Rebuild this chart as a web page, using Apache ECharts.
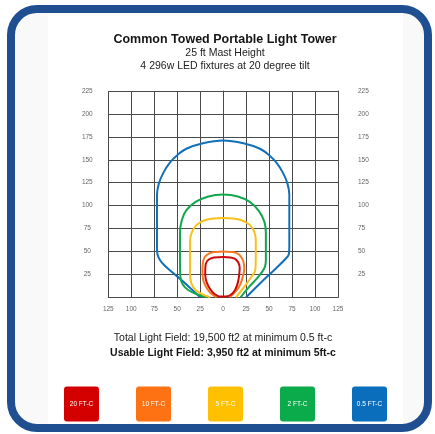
<!DOCTYPE html>
<html>
<head>
<meta charset="utf-8">
<script src="https://cdn.jsdelivr.net/npm/echarts@6/dist/echarts.min.js"></script>
<style>
html,body{margin:0;padding:0;background:#ffffff;}
#chart{width:435px;height:434px;}
</style>
</head>
<body>
<div id="chart"></div>
<script>
// ---- data (feet) ----
var xTicks = [-125,-100,-75,-50,-25,0,25,50,75,100,125];
var yTicks = [0,25,50,75,100,125,150,175,200,225];

var fc05 = [[-25,0],[-40,14],[-55,27],[-64,35],[-69,41],[-71.5,47],[-72,55],[-72,75],[-72,95],[-72,112],[-70,124],[-65,136],[-58,147],[-50,155],[-40,162],[-22,168],[0,171],[22,168],[40,162],[50,155],[58,147],[65,136],[70,124],[72,112],[72,95],[72,75],[72,55],[71.5,47],[68,42],[58,32],[42,17],[25,0]];
var fc2 = [[-18,0],[-28,3],[-38,8],[-44,14],[-46.5,22],[-47,40],[-47,70],[-45,84],[-40,95],[-30,104],[-16,110],[0,112],[16,110],[29,104],[39,94],[45,82],[46.5,70],[46.5,40],[45,32],[38,22],[28,11],[19,0]];
var fc5 = [[-14,0],[-22,3],[-30,8],[-34.5,15],[-36,25],[-36,45],[-36,62],[-34,71],[-29,79],[-20,84],[-10,86],[0,86.5],[10,86],[20,84],[29,79],[34,71],[35.5,62],[35.5,45],[35,30],[32,24],[25,14],[14,0]];
var fc10 = [[-7,0],[-14,5],[-19,12],[-22,20],[-22.5,30],[-22,38],[-20,44],[-15,48],[-8,49.5],[0,50],[8,49.5],[14,48.5],[19,45],[22,39],[23,31],[21.5,23],[19,15],[15,8],[7,0]];
var fc20 = [[-5,1],[-11,5],[-16,12],[-19,20],[-19.5,28],[-19,36],[-16,41],[-10,43.5],[0,44],[8,43.5],[13,42],[16.5,38],[18,32],[17.5,25],[16,16],[13,8],[8,2.5],[2,1],[-5,1]];

var legendLabels = ['20 FT-C','10 FT-C','5 FT-C','2 FT-C','0.5 FT-C'];
var titleText = 'Common Towed Portable Light Tower';
var subLines = ['25 ft Mast Height','4 296w LED fixtures at 20 degree tilt'];
var footLines = ['Total Light Field: 19,500 ft2 at minimum 0.5 ft-c','Usable Light Field: 3,950 ft2 at minimum 5ft-c'];

var lineColors = ['#cc0a0a','#f47920','#f9c11c','#12a64d','#1170b8'];
var boxColors = ['#d40000','#ff7214','#ffc000','#0bab4b','#0a6ebd'];
var seriesData = [fc20, fc10, fc5, fc2, fc05];

var FONT = '"Liberation Sans", Arial, sans-serif';

var chart = echarts.init(document.getElementById('chart'), null, {renderer:'canvas'});

var graphics = [
  {type:'rect', z:-10, silent:true, shape:{x:11,y:9,width:417,height:419,r:26}, style:{fill:'#f9f9fa', stroke:'#1f4f91', lineWidth:8}},
  {type:'rect', z:-9, silent:true, shape:{x:48,y:13,width:355,height:411}, style:{fill:'#ffffff'}},
  {type:'text', silent:true, style:{x:225, y:39.5, text:titleText, font:'bold 12.5px '+FONT, fill:'#151515', textAlign:'center', textVerticalAlign:'middle'}},
  {type:'text', silent:true, style:{x:225, y:53.5, text:subLines[0], font:'10.5px '+FONT, fill:'#222', textAlign:'center', textVerticalAlign:'middle'}},
  {type:'text', silent:true, style:{x:225, y:66, text:subLines[1], font:'10.5px '+FONT, fill:'#222', textAlign:'center', textVerticalAlign:'middle'}},
  {type:'text', silent:true, style:{x:223, y:338.5, text:footLines[0], font:'10.5px '+FONT, fill:'#222', textAlign:'center', textVerticalAlign:'middle'}},
  {type:'text', silent:true, style:{x:223, y:353.5, text:footLines[1], font:'bold 10.5px '+FONT, fill:'#151515', textAlign:'center', textVerticalAlign:'middle'}}
];
legendLabels.forEach(function(lbl, i){
  var cx = 81.5 + i*72;
  graphics.push({type:'rect', silent:true, shape:{x:cx-17.5, y:386.5, width:35, height:35, r:3}, style:{fill:boxColors[i]}});
  graphics.push({type:'text', silent:true, style:{x:cx, y:404, text:lbl, font:'6.5px '+FONT, fill:'#ffffff', textAlign:'center', textVerticalAlign:'middle'}});
});

var gridColor = '#4a4a4a';
var series = seriesData.map(function(d, i){
  return {type:'line', data:d, xAxisIndex:0, yAxisIndex:0, showSymbol:false, smooth:0.35,
          lineStyle:{color:lineColors[i], width:2}, itemStyle:{color:lineColors[i]}, z:5-i, animation:false, silent:true};
});

chart.setOption({
  animation:false,
  grid:{left:108.3, right:97, top:91, bottom:136.7, containLabel:false},
  xAxis:{type:'value', min:xTicks[0], max:xTicks[xTicks.length-1], interval:25,
    axisLine:{show:true, onZero:false, lineStyle:{color:gridColor, width:1}},
    axisTick:{show:false},
    splitLine:{show:true, lineStyle:{color:gridColor, width:1}},
    axisLabel:{margin:8, fontSize:6.5, color:'#666', fontFamily:FONT, formatter:function(v){return String(Math.abs(v));}}
  },
  yAxis:[
    {type:'value', min:yTicks[0], max:yTicks[yTicks.length-1], interval:25, position:'left',
      axisLine:{show:true, lineStyle:{color:gridColor, width:1}},
      axisTick:{show:false},
      splitLine:{show:true, lineStyle:{color:gridColor, width:1}},
      axisLabel:{margin:21, align:'center', fontSize:6.5, color:'#666', fontFamily:FONT, formatter:function(v){return v===0?'':String(v);}}
    },
    {type:'value', min:yTicks[0], max:yTicks[yTicks.length-1], interval:25, position:'right',
      axisLine:{show:true, lineStyle:{color:gridColor, width:1}},
      axisTick:{show:false},
      splitLine:{show:false},
      axisLabel:{margin:20, align:'left', fontSize:6.5, color:'#666', fontFamily:FONT, formatter:function(v){return v===0?'':String(v);}}
    }
  ],
  graphic:graphics,
  series:series
});
</script>
</body>
</html>
